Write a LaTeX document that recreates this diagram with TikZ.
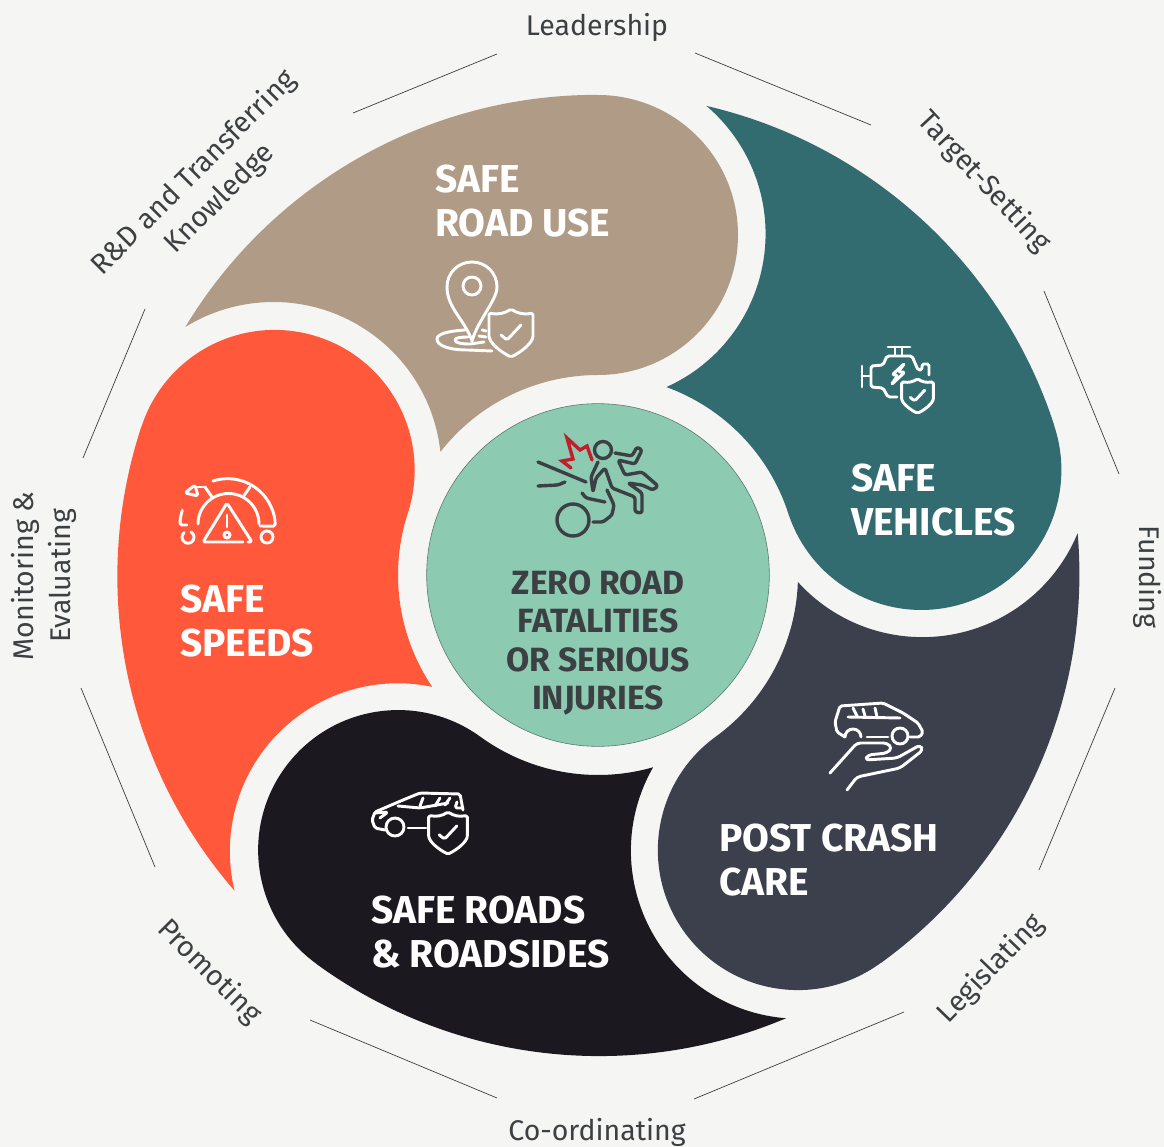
\documentclass[tikz,border=0pt]{standalone}
\usepackage{fontspec}
\setmainfont{Fira Sans}
\definecolor{paper}{HTML}{F5F5F3}
\definecolor{roadtan}{HTML}{B09C86}
\definecolor{speedred}{HTML}{FF583B}
\definecolor{roadblack}{HTML}{1C181F}
\definecolor{crashslate}{HTML}{3B404C}
\definecolor{vehicleteal}{HTML}{336C70}
\definecolor{centregreen}{HTML}{8CCBB2}
\definecolor{inkgrey}{HTML}{3C4043}
\definecolor{hitred}{HTML}{C01F2C}
\tikzset{
	petaltitle/.style={white,anchor=west,align=left,font=\fontsize{33.2}{38.3}\selectfont\bfseries},
	pillar/.style={inkgrey,font=\fontsize{24.3}{31}\selectfont,align=center},
	iconline/.style={white,line width=2.5pt,line cap=round,line join=round,rounded corners=1.5pt},
	crashline/.style={inkgrey,line width=2.9pt,line cap=round,line join=round,rounded corners=2pt},
	shield/.pic={
		\draw[iconline] (-22,-20) .. controls (-12,-18) and (-6,-20) .. (0,-24) .. controls (6,-20) and (12,-18) .. (22,-20)
			-- (22,1) .. controls (22,10) and (10,19) .. (0,24) .. controls (-10,19) and (-22,10) .. (-22,1) -- cycle;
		\draw[iconline] (-10,2) -- (-4,7) -- (10,-8);
	}
}
\begin{document}
\begin{tikzpicture}[x=0.03cm,y=-0.03cm]
	\useasboundingbox (0,0) rectangle (1164,1147);
	\fill[paper] (0,0) rectangle (1164,1147);

	%The five petals
	\foreach \petalangle/\petalcolor in {0/roadtan,72/speedred,144/roadblack,216/crashslate,288/vehicleteal}{
		\begin{scope}[shift={(598,575)},rotate=\petalangle]
			\fill[\petalcolor] (0,-480) arc (-90:90:140) arc (-90:-142:200) arc (-6.2:-121.6:168) arc (-148.9:-90:480) -- cycle;
		\end{scope}
	}
	%Centre
	\node[circle,draw=inkgrey!60!centregreen,line width=0.5pt,fill=centregreen,minimum size=10.28cm,inner sep=0pt] (centre) at (598,575) {};

	%Outer lines
	\foreach \xa/\ya/\xb/\yb in {497/54/353/113,695/53/871/125,1044/291/1119/474,1115/688/1039/870,904/1012/694/1099,497/1098/310/1020,155/867/81/688,83/458/145/309}{
		\draw[inkgrey,line width=0.6pt] (\xa,\ya)--(\xb,\yb);
	}
	%Outer labels
	\node[pillar] (leadership) at (597,27) {Leadership};
	\node[pillar,rotate=-47] (target) at (984,182) {Target-Setting};
	\node[pillar,rotate=-90] (funding) at (1148,577) {Funding};
	\node[pillar,rotate=46] (legislating) at (991,969) {Legislating};
	\node[pillar] (coordinating) at (597,1132.5) {Co-ordinating};
	\node[pillar,rotate=-45] (promoting) at (209,972) {Promoting};
	\node[pillar,rotate=90] (monitoring) at (44,576) {Monitoring \&\\Evaluating};
	\node[pillar,rotate=45] (research) at (207,186) {R\&D and Transferring\\Knowledge};

	%Petal titles
	\node[petaltitle] (saferoaduse) at (431,201) {SAFE\\ROAD USE};
	\node[petaltitle] (safevehicles) at (847,500) {SAFE\\VEHICLES};
	\node[petaltitle] (postcrash) at (715,860) {POST CRASH\\CARE};
	\node[petaltitle] (saferoads) at (367,932) {SAFE ROADS\\\& ROADSIDES};
	\node[petaltitle] (safespeeds) at (176,621) {SAFE\\SPEEDS};
	\node[inkgrey,align=center,font=\fontsize{28.7}{32.7}\selectfont\bfseries] (zero) at (598,643) {ZERO ROAD\\FATALITIES\\OR SERIOUS\\INJURIES};

	%Road use icon
	\draw[iconline,rounded corners=0pt] (472,341) .. controls (465,320) and (447,308) .. (447,287) .. controls (447,273) and (458,262) .. (472,262) .. controls (486,262) and (497,273) .. (497,287) .. controls (497,300) and (478,320) .. (472,341);
	\draw[iconline] (472,286) circle (9);
	\draw[iconline,rounded corners=0pt] (465,330) .. controls (448,331) and (437,334) .. (437,339) .. controls (437,346) and (450,350) .. (468,350) -- (492,351);
	\draw[iconline,rounded corners=0pt] (468,337) .. controls (460,337) and (455,338) .. (455,340) .. controls (455,343) and (462,344) .. (470,344) -- (484,342);
	\draw[iconline] (482,330)--(486,331);
	\draw[iconline] (479,336)--(486,337);
	\pic at (511,333) {shield};

	%Engine icon
	\draw[iconline] (888,347)--(910,347);
	\draw[iconline] (895,347)--(895,355);
	\draw[iconline] (902,347)--(902,355);
	\draw[iconline] (862,366)--(862,387);
	\draw[iconline] (862,376)--(871,376);
	\draw[iconline] (897,397)--(888,397)--(883,388)--(871,387)--(871,366)--(883,365)--(887,356)--(912,356)--(918,370)--(922,370)--(922,364)--(929,364)--(929,375);
	\draw[iconline] (905,363)--(892,375)--(898,375)--(891,385)--(905,372)--(898,372)--cycle;
	\pic[scale=0.72] at (917.5,396) {shield};

	%Gauge icon
	\draw[iconline] (187,525)--(180,525) arc (180:198:47.5);
	\draw[iconline] (213,481) arc (-108:0:47.5)--(260,526);
	\draw[iconline] (198,524) arc (180:360:30.5) ;
	\draw[iconline] (205,487)--(212,497);
	\draw[iconline] (250,487)--(243,497);
	\draw[iconline] (195,485)--(185,493)--(198,496)--cycle;
	\draw[iconline] (198,487)--(205,487);
	\draw[iconline] (248,542)--(252,542)--(227,503)--(203,542)--(243,542);
	\draw[iconline] (227,515)--(227,527);
	\draw[iconline] (227,535) circle (3);
	\draw[iconline] (191,532) arc (-60:230:6);
	\draw[iconline] (267,537) circle (6);

	%Car icon
	\draw[iconline] (385,830)--(375,828)--(372,820)--(375,812)--(403,800)--(420,793)--(460,794)--(463,810);
	\draw[iconline] (395,827) circle (9);
	\draw[iconline] (408,828)--(426,828);
	\draw[iconline] (398,806)--(420,808)--(448,803);
	\draw[iconline] (423,798)--(420,806);
	\draw[iconline] (440,798)--(435,806);
	\draw[iconline] (450,798)--(445,805);
	\draw[iconline] (457,802)--(455,808)--(462,808);
	\draw[iconline] (375,813)--(388,812)--(380,818);
	\pic[scale=0.88] at (448,833) {shield};

	%Car on hand icon
	\draw[iconline] (845,737)--(837,732)--(835,722)--(840,706)--(883,703)--(903,713)--(918,723)--(923,732)--(920,737)--(910,737);
	\draw[iconline] (900,736) circle (8);
	\draw[iconline] (845,737) arc (180:360:8);
	\draw[iconline] (867,737)--(888,737);
	\draw[iconline] (848,717)--(900,718);
	\draw[iconline] (853,708)--(857,716);
	\draw[iconline] (863,709)--(865,716);
	\draw[iconline] (875,708)--(877,717);
	\draw[iconline,rounded corners=3pt] (830,773)--(857,743)--(887,743)--(892,748)--(887,753)--(868,755)--(865,760)--(897,758)--(920,745)--(923,750)--(900,768)--(857,777)--(847,790);

	%Fallen figure
	\draw[crashline] (538,462)--(586,482);
	\draw[crashline] (538,486)--(558,485)--(565,482);
	\draw[hitred,line width=2.9pt,line join=miter,line cap=round] (571,468)--(562,461)--(573,459)--(567,438)--(580,450)--(587,446)--(592,460);
	\draw[crashline] (603,450) circle (8.5);
	\draw[crashline] (598,462)--(591,477)--(593,492)--(596,478)--(605,468)--(612,488)--(635,497)--(635,512)--(642,513)--(642,493)--(628,483)--(642,485)--(653,490)--(658,486)--(642,472)--(625,475)--(618,460)--(635,464)--(642,450)--(637,447)--(632,456)--(615,453);
	\draw[crashline] (582,493)--(586,498)--(605,502);
	\draw[crashline] (607,490)--(614,505)--(612,515)--(603,522)--(593,522);
	\draw[crashline] (573,520) circle (16);
\end{tikzpicture}
\end{document}
